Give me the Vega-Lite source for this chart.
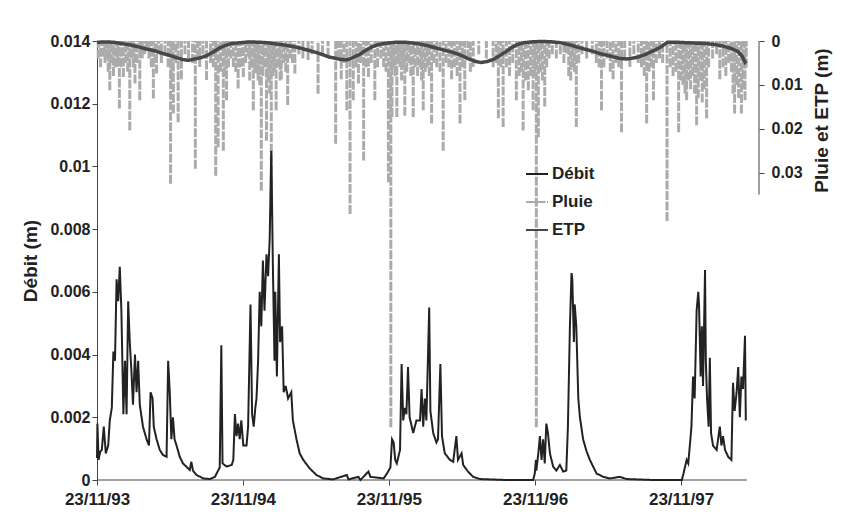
{
  "$schema": "https://vega.github.io/schema/vega-lite/v6.json",
  "width": 662,
  "height": 439,
  "autosize": {"type": "none"},
  "padding": {"left": 97, "top": 41, "right": 82, "bottom": 49},
  "background": "white",
  "config": {
    "view": {"stroke": null},
    "axis": {
      "grid": false,
      "labelFont": "Liberation Sans",
      "labelFontWeight": "bold",
      "labelFontSize": 16,
      "labelColor": "#222",
      "titleFont": "Liberation Sans",
      "titleFontWeight": "bold",
      "titleFontSize": 19,
      "titleColor": "#222",
      "domainColor": "#444",
      "tickColor": "#444",
      "tickSize": 5
    },
    "legend": {
      "labelFont": "Liberation Sans",
      "labelFontSize": 17,
      "labelFontWeight": "bold",
      "labelColor": "#222"
    }
  },
  "datasets": {
    "debit": [
      {"date": "1993-11-23", "q": 0.0007}, {"date": "1993-11-24", "q": 0.0018}, {"date": "1993-11-27", "q": 0.00064}, {"date": "1993-12-01", "q": 0.0009},
      {"date": "1993-12-05", "q": 0.00096}, {"date": "1993-12-10", "q": 0.0017}, {"date": "1993-12-15", "q": 0.00085}, {"date": "1993-12-21", "q": 0.0011},
      {"date": "1993-12-25", "q": 0.0019}, {"date": "1993-12-30", "q": 0.0023}, {"date": "1994-01-03", "q": 0.0041}, {"date": "1994-01-07", "q": 0.0038},
      {"date": "1994-01-11", "q": 0.0064}, {"date": "1994-01-15", "q": 0.0057}, {"date": "1994-01-19", "q": 0.0068}, {"date": "1994-01-23", "q": 0.0054},
      {"date": "1994-01-28", "q": 0.0021}, {"date": "1994-02-01", "q": 0.0038}, {"date": "1994-02-05", "q": 0.0021}, {"date": "1994-02-09", "q": 0.0057},
      {"date": "1994-02-13", "q": 0.0044}, {"date": "1994-02-17", "q": 0.0035}, {"date": "1994-02-21", "q": 0.0024}, {"date": "1994-02-26", "q": 0.004},
      {"date": "1994-03-02", "q": 0.0028}, {"date": "1994-03-06", "q": 0.0038}, {"date": "1994-03-10", "q": 0.0024}, {"date": "1994-03-18", "q": 0.0017},
      {"date": "1994-03-27", "q": 0.0013}, {"date": "1994-04-02", "q": 0.0011}, {"date": "1994-04-06", "q": 0.0028}, {"date": "1994-04-11", "q": 0.0026},
      {"date": "1994-04-14", "q": 0.0017}, {"date": "1994-04-21", "q": 0.0013}, {"date": "1994-04-29", "q": 0.00096}, {"date": "1994-05-07", "q": 0.0008},
      {"date": "1994-05-16", "q": 0.00074}, {"date": "1994-05-20", "q": 0.0038}, {"date": "1994-05-24", "q": 0.0028}, {"date": "1994-05-28", "q": 0.0013},
      {"date": "1994-06-01", "q": 0.002}, {"date": "1994-06-05", "q": 0.0013}, {"date": "1994-06-10", "q": 0.0011}, {"date": "1994-06-18", "q": 0.00074},
      {"date": "1994-06-26", "q": 0.00053}, {"date": "1994-07-13", "q": 0.00032}, {"date": "1994-07-17", "q": 0.00058}, {"date": "1994-07-21", "q": 0.0003},
      {"date": "1994-07-30", "q": 0.00016}, {"date": "1994-08-16", "q": 0.00005}, {"date": "1994-09-01", "q": 0.00003}, {"date": "1994-09-14", "q": 0.0001},
      {"date": "1994-09-22", "q": 0.0003}, {"date": "1994-09-26", "q": 0.0004}, {"date": "1994-09-30", "q": 0.0043}, {"date": "1994-10-03", "q": 0.00053},
      {"date": "1994-10-13", "q": 0.00043}, {"date": "1994-10-26", "q": 0.00048}, {"date": "1994-10-30", "q": 0.00064}, {"date": "1994-11-03", "q": 0.0021},
      {"date": "1994-11-07", "q": 0.0014}, {"date": "1994-11-11", "q": 0.0018}, {"date": "1994-11-15", "q": 0.0013}, {"date": "1994-11-19", "q": 0.0019},
      {"date": "1994-11-24", "q": 0.0011}, {"date": "1994-12-02", "q": 0.0011}, {"date": "1994-12-06", "q": 0.0017}, {"date": "1994-12-12", "q": 0.0056},
      {"date": "1994-12-16", "q": 0.0021}, {"date": "1994-12-20", "q": 0.0017}, {"date": "1994-12-24", "q": 0.0023}, {"date": "1994-12-27", "q": 0.0026},
      {"date": "1994-12-31", "q": 0.0038}, {"date": "1995-01-04", "q": 0.006}, {"date": "1995-01-08", "q": 0.0049}, {"date": "1995-01-12", "q": 0.007},
      {"date": "1995-01-16", "q": 0.0054}, {"date": "1995-01-21", "q": 0.0072}, {"date": "1995-01-25", "q": 0.0065}, {"date": "1995-01-29", "q": 0.0077},
      {"date": "1995-02-02", "q": 0.0105}, {"date": "1995-02-06", "q": 0.0068}, {"date": "1995-02-10", "q": 0.0038}, {"date": "1995-02-12", "q": 0.006},
      {"date": "1995-02-16", "q": 0.0033}, {"date": "1995-02-21", "q": 0.0072}, {"date": "1995-02-24", "q": 0.0044}, {"date": "1995-03-01", "q": 0.0049},
      {"date": "1995-03-05", "q": 0.0028}, {"date": "1995-03-10", "q": 0.003}, {"date": "1995-03-16", "q": 0.0026}, {"date": "1995-03-24", "q": 0.0028},
      {"date": "1995-03-28", "q": 0.0019}, {"date": "1995-04-06", "q": 0.0013}, {"date": "1995-04-14", "q": 0.00085}, {"date": "1995-04-23", "q": 0.00064},
      {"date": "1995-05-09", "q": 0.00037}, {"date": "1995-05-26", "q": 0.00016}, {"date": "1995-06-12", "q": 0.00005}, {"date": "1995-07-07", "q": 0.00002},
      {"date": "1995-08-10", "q": 0.00016}, {"date": "1995-08-14", "q": 0.00002}, {"date": "1995-09-08", "q": 0.0001}, {"date": "1995-09-13", "q": 0},
      {"date": "1995-10-03", "q": 0.00027}, {"date": "1995-10-08", "q": 0.0001}, {"date": "1995-11-10", "q": 0.00005}, {"date": "1995-11-18", "q": 0.0002},
      {"date": "1995-11-27", "q": 0.0004}, {"date": "1995-12-01", "q": 0.0013}, {"date": "1995-12-05", "q": 0.0012}, {"date": "1995-12-09", "q": 0.00064},
      {"date": "1995-12-13", "q": 0.00053}, {"date": "1995-12-21", "q": 0.00096}, {"date": "1995-12-25", "q": 0.0037}, {"date": "1995-12-29", "q": 0.0019},
      {"date": "1996-01-02", "q": 0.0023}, {"date": "1996-01-06", "q": 0.0021}, {"date": "1996-01-10", "q": 0.0036}, {"date": "1996-01-14", "q": 0.002},
      {"date": "1996-01-23", "q": 0.0015}, {"date": "1996-01-31", "q": 0.0019}, {"date": "1996-02-09", "q": 0.0019}, {"date": "1996-02-13", "q": 0.0029},
      {"date": "1996-02-17", "q": 0.0017}, {"date": "1996-02-21", "q": 0.0026}, {"date": "1996-02-25", "q": 0.0019}, {"date": "1996-03-03", "q": 0.0055},
      {"date": "1996-03-06", "q": 0.0022}, {"date": "1996-03-13", "q": 0.0015}, {"date": "1996-03-21", "q": 0.0012}, {"date": "1996-03-25", "q": 0.0013},
      {"date": "1996-03-31", "q": 0.0037}, {"date": "1996-04-04", "q": 0.0014}, {"date": "1996-04-11", "q": 0.00085}, {"date": "1996-04-24", "q": 0.00064},
      {"date": "1996-05-02", "q": 0.00058}, {"date": "1996-05-10", "q": 0.0014}, {"date": "1996-05-14", "q": 0.00064}, {"date": "1996-05-23", "q": 0.00085},
      {"date": "1996-05-27", "q": 0.00048}, {"date": "1996-06-08", "q": 0.00027}, {"date": "1996-06-21", "q": 0.0001}, {"date": "1996-07-08", "q": 0.00003},
      {"date": "1996-09-12", "q": 0}, {"date": "1996-11-18", "q": 0}, {"date": "1996-11-22", "q": 0.0002}, {"date": "1996-11-25", "q": 0.00064},
      {"date": "1996-11-26", "q": 0.0003}, {"date": "1996-12-01", "q": 0.00085}, {"date": "1996-12-05", "q": 0.0014}, {"date": "1996-12-09", "q": 0.00064},
      {"date": "1996-12-13", "q": 0.0013}, {"date": "1996-12-17", "q": 0.00053}, {"date": "1996-12-21", "q": 0.0018}, {"date": "1996-12-25", "q": 0.0015},
      {"date": "1996-12-30", "q": 0.00085}, {"date": "1997-01-07", "q": 0.00043}, {"date": "1997-01-15", "q": 0.0003}, {"date": "1997-01-24", "q": 0.00048},
      {"date": "1997-02-01", "q": 0.00027}, {"date": "1997-02-09", "q": 0.0003}, {"date": "1997-02-13", "q": 0.0017}, {"date": "1997-02-18", "q": 0.0049},
      {"date": "1997-02-22", "q": 0.0066}, {"date": "1997-02-24", "q": 0.0064}, {"date": "1997-02-28", "q": 0.0044}, {"date": "1997-03-02", "q": 0.0056},
      {"date": "1997-03-06", "q": 0.0049}, {"date": "1997-03-11", "q": 0.0026}, {"date": "1997-03-15", "q": 0.002}, {"date": "1997-03-23", "q": 0.0013},
      {"date": "1997-04-01", "q": 0.0009}, {"date": "1997-04-09", "q": 0.00064}, {"date": "1997-04-17", "q": 0.00043}, {"date": "1997-04-26", "q": 0.0002},
      {"date": "1997-05-04", "q": 0.00016}, {"date": "1997-05-12", "q": 0.0001}, {"date": "1997-05-29", "q": 0.00005}, {"date": "1997-06-23", "q": 0.0001},
      {"date": "1997-07-10", "q": 0.00003}, {"date": "1997-09-15", "q": 0}, {"date": "1997-11-25", "q": 0}, {"date": "1997-11-29", "q": 0.0002},
      {"date": "1997-12-07", "q": 0.00064}, {"date": "1997-12-11", "q": 0.00053}, {"date": "1997-12-15", "q": 0.0011}, {"date": "1997-12-19", "q": 0.0017},
      {"date": "1997-12-23", "q": 0.0033}, {"date": "1997-12-27", "q": 0.0026}, {"date": "1998-01-01", "q": 0.0054}, {"date": "1998-01-05", "q": 0.006},
      {"date": "1998-01-07", "q": 0.0056}, {"date": "1998-01-11", "q": 0.0033}, {"date": "1998-01-14", "q": 0.0049}, {"date": "1998-01-17", "q": 0.003},
      {"date": "1998-01-22", "q": 0.0067}, {"date": "1998-01-24", "q": 0.0038}, {"date": "1998-01-27", "q": 0.0026}, {"date": "1998-01-31", "q": 0.0017},
      {"date": "1998-02-03", "q": 0.0039}, {"date": "1998-02-06", "q": 0.0015}, {"date": "1998-02-11", "q": 0.0011}, {"date": "1998-02-20", "q": 0.00096},
      {"date": "1998-02-28", "q": 0.0017}, {"date": "1998-03-04", "q": 0.0011}, {"date": "1998-03-08", "q": 0.0014}, {"date": "1998-03-13", "q": 0.00096},
      {"date": "1998-03-21", "q": 0.00074}, {"date": "1998-03-29", "q": 0.00064}, {"date": "1998-04-02", "q": 0.0031}, {"date": "1998-04-06", "q": 0.0022},
      {"date": "1998-04-11", "q": 0.0028}, {"date": "1998-04-15", "q": 0.0036}, {"date": "1998-04-19", "q": 0.002}, {"date": "1998-04-23", "q": 0.0033},
      {"date": "1998-04-27", "q": 0.0029}, {"date": "1998-05-02", "q": 0.0046}, {"date": "1998-05-04", "q": 0.0019}
    ],
    "pluie": [
      {"date": "1993-11-26", "v": 0.004}, {"date": "1993-12-02", "v": 0.006}, {"date": "1993-12-09", "v": 0.0036}, {"date": "1993-12-13", "v": 0.005},
      {"date": "1993-12-17", "v": 0.004}, {"date": "1993-12-21", "v": 0.007}, {"date": "1993-12-25", "v": 0.0112}, {"date": "1993-12-29", "v": 0.005},
      {"date": "1994-01-03", "v": 0.008}, {"date": "1994-01-07", "v": 0.0059}, {"date": "1994-01-11", "v": 0.006}, {"date": "1994-01-14", "v": 0.004},
      {"date": "1994-01-18", "v": 0.0154}, {"date": "1994-01-22", "v": 0.006}, {"date": "1994-01-28", "v": 0.0082}, {"date": "1994-02-03", "v": 0.005},
      {"date": "1994-02-08", "v": 0.007}, {"date": "1994-02-13", "v": 0.0204}, {"date": "1994-02-18", "v": 0.004}, {"date": "1994-02-22", "v": 0.006},
      {"date": "1994-02-26", "v": 0.0097}, {"date": "1994-03-03", "v": 0.005}, {"date": "1994-03-10", "v": 0.0135}, {"date": "1994-03-16", "v": 0.004},
      {"date": "1994-03-22", "v": 0.003}, {"date": "1994-03-27", "v": 0.002}, {"date": "1994-04-02", "v": 0.004}, {"date": "1994-04-08", "v": 0.006},
      {"date": "1994-04-13", "v": 0.0131}, {"date": "1994-04-17", "v": 0.005}, {"date": "1994-04-21", "v": 0.0074}, {"date": "1994-04-26", "v": 0.003},
      {"date": "1994-05-03", "v": 0.005}, {"date": "1994-05-12", "v": 0.003}, {"date": "1994-05-20", "v": 0.006}, {"date": "1994-05-26", "v": 0.0325},
      {"date": "1994-05-29", "v": 0.009}, {"date": "1994-06-02", "v": 0.0165}, {"date": "1994-06-08", "v": 0.005}, {"date": "1994-06-14", "v": 0.0185},
      {"date": "1994-06-22", "v": 0.0087}, {"date": "1994-07-01", "v": 0.003}, {"date": "1994-07-10", "v": 0.004}, {"date": "1994-07-20", "v": 0.005},
      {"date": "1994-07-27", "v": 0.0291}, {"date": "1994-08-02", "v": 0.004}, {"date": "1994-08-07", "v": 0.0059}, {"date": "1994-08-15", "v": 0.003},
      {"date": "1994-08-24", "v": 0.0089}, {"date": "1994-09-03", "v": 0.005}, {"date": "1994-09-10", "v": 0.006}, {"date": "1994-09-16", "v": 0.0307},
      {"date": "1994-09-22", "v": 0.0242}, {"date": "1994-09-28", "v": 0.007}, {"date": "1994-10-05", "v": 0.025}, {"date": "1994-10-09", "v": 0.008},
      {"date": "1994-10-13", "v": 0.0135}, {"date": "1994-10-18", "v": 0.006}, {"date": "1994-10-24", "v": 0.004}, {"date": "1994-10-30", "v": 0.0059},
      {"date": "1994-11-05", "v": 0.007}, {"date": "1994-11-11", "v": 0.0108}, {"date": "1994-11-17", "v": 0.006}, {"date": "1994-11-24", "v": 0.0082},
      {"date": "1994-11-30", "v": 0.005}, {"date": "1994-12-06", "v": 0.0036}, {"date": "1994-12-10", "v": 0.009}, {"date": "1994-12-14", "v": 0.006},
      {"date": "1994-12-19", "v": 0.0158}, {"date": "1994-12-23", "v": 0.007}, {"date": "1994-12-27", "v": 0.0074}, {"date": "1994-12-31", "v": 0.009},
      {"date": "1995-01-04", "v": 0.01}, {"date": "1995-01-08", "v": 0.0341}, {"date": "1995-01-12", "v": 0.008}, {"date": "1995-01-16", "v": 0.006},
      {"date": "1995-01-21", "v": 0.0227}, {"date": "1995-01-25", "v": 0.009}, {"date": "1995-01-29", "v": 0.012}, {"date": "1995-02-02", "v": 0.0398},
      {"date": "1995-02-06", "v": 0.008}, {"date": "1995-02-10", "v": 0.007}, {"date": "1995-02-14", "v": 0.0158}, {"date": "1995-02-20", "v": 0.006},
      {"date": "1995-02-24", "v": 0.009}, {"date": "1995-02-27", "v": 0.0087}, {"date": "1995-03-05", "v": 0.005}, {"date": "1995-03-10", "v": 0.007},
      {"date": "1995-03-15", "v": 0.0146}, {"date": "1995-03-21", "v": 0.004}, {"date": "1995-03-27", "v": 0.005}, {"date": "1995-04-02", "v": 0.0074},
      {"date": "1995-04-12", "v": 0.003}, {"date": "1995-04-22", "v": 0.004}, {"date": "1995-05-05", "v": 0.0043}, {"date": "1995-05-15", "v": 0.003},
      {"date": "1995-05-30", "v": 0.012}, {"date": "1995-06-10", "v": 0.003}, {"date": "1995-06-24", "v": 0.0036}, {"date": "1995-07-13", "v": 0.0234},
      {"date": "1995-07-20", "v": 0.004}, {"date": "1995-07-27", "v": 0.0087}, {"date": "1995-08-03", "v": 0.005}, {"date": "1995-08-10", "v": 0.0158},
      {"date": "1995-08-18", "v": 0.0394}, {"date": "1995-08-26", "v": 0.0135}, {"date": "1995-09-02", "v": 0.006}, {"date": "1995-09-08", "v": 0.0097},
      {"date": "1995-09-14", "v": 0.005}, {"date": "1995-09-21", "v": 0.0272}, {"date": "1995-09-27", "v": 0.006}, {"date": "1995-10-03", "v": 0.0082},
      {"date": "1995-10-10", "v": 0.005}, {"date": "1995-10-19", "v": 0.0135}, {"date": "1995-10-26", "v": 0.006}, {"date": "1995-11-03", "v": 0.004},
      {"date": "1995-11-10", "v": 0.0059}, {"date": "1995-11-16", "v": 0.007}, {"date": "1995-11-22", "v": 0.0322}, {"date": "1995-11-28", "v": 0.088},
      {"date": "1995-12-01", "v": 0.0173}, {"date": "1995-12-05", "v": 0.006}, {"date": "1995-12-09", "v": 0.008}, {"date": "1995-12-13", "v": 0.0173},
      {"date": "1995-12-17", "v": 0.005}, {"date": "1995-12-21", "v": 0.0059}, {"date": "1995-12-25", "v": 0.009}, {"date": "1995-12-29", "v": 0.006},
      {"date": "1996-01-02", "v": 0.017}, {"date": "1996-01-07", "v": 0.007}, {"date": "1996-01-12", "v": 0.005}, {"date": "1996-01-17", "v": 0.008},
      {"date": "1996-01-23", "v": 0.0173}, {"date": "1996-01-28", "v": 0.006}, {"date": "1996-02-03", "v": 0.008}, {"date": "1996-02-09", "v": 0.006},
      {"date": "1996-02-13", "v": 0.009}, {"date": "1996-02-17", "v": 0.0158}, {"date": "1996-02-22", "v": 0.007}, {"date": "1996-02-27", "v": 0.006},
      {"date": "1996-03-03", "v": 0.008}, {"date": "1996-03-09", "v": 0.0188}, {"date": "1996-03-15", "v": 0.005}, {"date": "1996-03-22", "v": 0.006},
      {"date": "1996-03-30", "v": 0.007}, {"date": "1996-04-07", "v": 0.025}, {"date": "1996-04-14", "v": 0.005}, {"date": "1996-04-21", "v": 0.006},
      {"date": "1996-04-28", "v": 0.0087}, {"date": "1996-05-05", "v": 0.006}, {"date": "1996-05-12", "v": 0.008}, {"date": "1996-05-19", "v": 0.0188},
      {"date": "1996-05-25", "v": 0.006}, {"date": "1996-05-31", "v": 0.0135}, {"date": "1996-06-08", "v": 0.004}, {"date": "1996-06-14", "v": 0.007},
      {"date": "1996-06-21", "v": 0.0059}, {"date": "1996-07-05", "v": 0.003}, {"date": "1996-07-24", "v": 0.004}, {"date": "1996-08-10", "v": 0.006},
      {"date": "1996-08-18", "v": 0.005}, {"date": "1996-08-23", "v": 0.0176}, {"date": "1996-08-29", "v": 0.006}, {"date": "1996-09-04", "v": 0.0196},
      {"date": "1996-09-12", "v": 0.006}, {"date": "1996-09-20", "v": 0.008}, {"date": "1996-09-28", "v": 0.005}, {"date": "1996-10-07", "v": 0.0135},
      {"date": "1996-10-14", "v": 0.008}, {"date": "1996-10-20", "v": 0.007}, {"date": "1996-10-24", "v": 0.0204}, {"date": "1996-10-30", "v": 0.009},
      {"date": "1996-11-06", "v": 0.0112}, {"date": "1996-11-12", "v": 0.008}, {"date": "1996-11-18", "v": 0.0158}, {"date": "1996-11-22", "v": 0.008},
      {"date": "1996-11-26", "v": 0.088}, {"date": "1996-12-01", "v": 0.0219}, {"date": "1996-12-06", "v": 0.007}, {"date": "1996-12-11", "v": 0.009},
      {"date": "1996-12-17", "v": 0.0149}, {"date": "1996-12-22", "v": 0.006}, {"date": "1996-12-28", "v": 0.004}, {"date": "1997-01-05", "v": 0.003},
      {"date": "1997-01-15", "v": 0.004}, {"date": "1997-01-25", "v": 0.003}, {"date": "1997-02-03", "v": 0.005}, {"date": "1997-02-09", "v": 0.0028},
      {"date": "1997-02-15", "v": 0.008}, {"date": "1997-02-20", "v": 0.009}, {"date": "1997-02-25", "v": 0.006}, {"date": "1997-03-01", "v": 0.007},
      {"date": "1997-03-06", "v": 0.0196}, {"date": "1997-03-12", "v": 0.005}, {"date": "1997-03-20", "v": 0.003}, {"date": "1997-04-01", "v": 0.004},
      {"date": "1997-04-15", "v": 0.003}, {"date": "1997-04-25", "v": 0.005}, {"date": "1997-05-02", "v": 0.006}, {"date": "1997-05-08", "v": 0.0158},
      {"date": "1997-05-14", "v": 0.006}, {"date": "1997-05-22", "v": 0.004}, {"date": "1997-05-30", "v": 0.007}, {"date": "1997-06-06", "v": 0.0087},
      {"date": "1997-06-13", "v": 0.005}, {"date": "1997-06-20", "v": 0.006}, {"date": "1997-06-27", "v": 0.0208}, {"date": "1997-07-05", "v": 0.004},
      {"date": "1997-07-18", "v": 0.0059}, {"date": "1997-07-28", "v": 0.003}, {"date": "1997-08-08", "v": 0.005}, {"date": "1997-08-16", "v": 0.006},
      {"date": "1997-08-23", "v": 0.008}, {"date": "1997-08-29", "v": 0.0188}, {"date": "1997-09-04", "v": 0.007}, {"date": "1997-09-10", "v": 0.006},
      {"date": "1997-09-15", "v": 0.0135}, {"date": "1997-09-22", "v": 0.005}, {"date": "1997-09-30", "v": 0.004}, {"date": "1997-10-08", "v": 0.005},
      {"date": "1997-10-19", "v": 0.041}, {"date": "1997-10-27", "v": 0.006}, {"date": "1997-11-03", "v": 0.008}, {"date": "1997-11-10", "v": 0.007},
      {"date": "1997-11-17", "v": 0.0208}, {"date": "1997-11-23", "v": 0.009}, {"date": "1997-11-28", "v": 0.01}, {"date": "1997-12-03", "v": 0.012},
      {"date": "1997-12-07", "v": 0.0135}, {"date": "1997-12-12", "v": 0.009}, {"date": "1997-12-17", "v": 0.011}, {"date": "1997-12-22", "v": 0.008},
      {"date": "1997-12-27", "v": 0.012}, {"date": "1998-01-01", "v": 0.0192}, {"date": "1998-01-05", "v": 0.013}, {"date": "1998-01-10", "v": 0.009},
      {"date": "1998-01-15", "v": 0.014}, {"date": "1998-01-20", "v": 0.011}, {"date": "1998-01-26", "v": 0.0176}, {"date": "1998-01-31", "v": 0.006},
      {"date": "1998-02-10", "v": 0.004}, {"date": "1998-02-20", "v": 0.003}, {"date": "1998-02-28", "v": 0.0087}, {"date": "1998-03-08", "v": 0.006},
      {"date": "1998-03-15", "v": 0.008}, {"date": "1998-03-22", "v": 0.005}, {"date": "1998-03-29", "v": 0.007}, {"date": "1998-04-02", "v": 0.012},
      {"date": "1998-04-06", "v": 0.0165}, {"date": "1998-04-11", "v": 0.01}, {"date": "1998-04-16", "v": 0.013}, {"date": "1998-04-23", "v": 0.0165},
      {"date": "1998-04-27", "v": 0.011}, {"date": "1998-05-02", "v": 0.0135}, {"date": "1998-05-05", "v": 0.006}
    ],
    "etp": [
      {"date": "1993-11-23", "v": 0.0003}, {"date": "1993-12-15", "v": 0.0002}, {"date": "1994-01-05", "v": 0.0003}, {"date": "1994-01-25", "v": 0.0006},
      {"date": "1994-02-15", "v": 0.0009}, {"date": "1994-03-05", "v": 0.0013}, {"date": "1994-03-25", "v": 0.0018}, {"date": "1994-04-15", "v": 0.0022},
      {"date": "1994-05-05", "v": 0.0028}, {"date": "1994-05-25", "v": 0.0033}, {"date": "1994-06-10", "v": 0.0038}, {"date": "1994-06-25", "v": 0.0042},
      {"date": "1994-07-10", "v": 0.0044}, {"date": "1994-07-25", "v": 0.0041}, {"date": "1994-08-10", "v": 0.0038}, {"date": "1994-08-25", "v": 0.0033},
      {"date": "1994-09-10", "v": 0.0025}, {"date": "1994-09-25", "v": 0.0016}, {"date": "1994-10-10", "v": 0.001}, {"date": "1994-10-25", "v": 0.0006},
      {"date": "1994-11-15", "v": 0.0004}, {"date": "1994-12-10", "v": 0.0002}, {"date": "1995-01-05", "v": 0.0003}, {"date": "1995-01-25", "v": 0.0004},
      {"date": "1995-02-15", "v": 0.0007}, {"date": "1995-03-05", "v": 0.0009}, {"date": "1995-03-25", "v": 0.0012}, {"date": "1995-04-15", "v": 0.0016},
      {"date": "1995-05-05", "v": 0.0021}, {"date": "1995-05-25", "v": 0.0026}, {"date": "1995-06-10", "v": 0.0031}, {"date": "1995-06-25", "v": 0.0036},
      {"date": "1995-07-10", "v": 0.0039}, {"date": "1995-07-25", "v": 0.0042}, {"date": "1995-08-10", "v": 0.0043}, {"date": "1995-08-25", "v": 0.0038},
      {"date": "1995-09-10", "v": 0.0031}, {"date": "1995-09-25", "v": 0.0022}, {"date": "1995-10-10", "v": 0.0014}, {"date": "1995-10-25", "v": 0.0009},
      {"date": "1995-11-15", "v": 0.0005}, {"date": "1995-12-10", "v": 0.0003}, {"date": "1996-01-05", "v": 0.0003}, {"date": "1996-01-25", "v": 0.0005},
      {"date": "1996-02-15", "v": 0.0008}, {"date": "1996-03-05", "v": 0.0012}, {"date": "1996-03-25", "v": 0.0017}, {"date": "1996-04-15", "v": 0.0022},
      {"date": "1996-05-05", "v": 0.0027}, {"date": "1996-05-25", "v": 0.0034}, {"date": "1996-06-10", "v": 0.0041}, {"date": "1996-06-25", "v": 0.0046},
      {"date": "1996-07-10", "v": 0.0049}, {"date": "1996-07-25", "v": 0.0047}, {"date": "1996-08-10", "v": 0.0042}, {"date": "1996-08-25", "v": 0.0034},
      {"date": "1996-09-10", "v": 0.0025}, {"date": "1996-09-25", "v": 0.0015}, {"date": "1996-10-10", "v": 0.0008}, {"date": "1996-10-25", "v": 0.0004},
      {"date": "1996-11-15", "v": 0.0002}, {"date": "1996-12-10", "v": 0.0001}, {"date": "1997-01-05", "v": 0.0002}, {"date": "1997-01-25", "v": 0.0004},
      {"date": "1997-02-15", "v": 0.0008}, {"date": "1997-03-05", "v": 0.0013}, {"date": "1997-03-25", "v": 0.0018}, {"date": "1997-04-15", "v": 0.0023},
      {"date": "1997-05-05", "v": 0.0029}, {"date": "1997-05-25", "v": 0.0033}, {"date": "1997-06-10", "v": 0.0037}, {"date": "1997-06-25", "v": 0.004},
      {"date": "1997-07-10", "v": 0.0041}, {"date": "1997-07-25", "v": 0.0039}, {"date": "1997-08-10", "v": 0.0036}, {"date": "1997-08-25", "v": 0.0031},
      {"date": "1997-09-10", "v": 0.0024}, {"date": "1997-10-01", "v": 0.0015}, {"date": "1997-10-20", "v": 0.0003}, {"date": "1997-11-15", "v": 0.0003},
      {"date": "1997-12-10", "v": 0.0004}, {"date": "1998-01-05", "v": 0.0005}, {"date": "1998-01-25", "v": 0.0006}, {"date": "1998-02-15", "v": 0.0008},
      {"date": "1998-03-05", "v": 0.0011}, {"date": "1998-03-25", "v": 0.0016}, {"date": "1998-04-15", "v": 0.0024}, {"date": "1998-04-25", "v": 0.0035},
      {"date": "1998-05-02", "v": 0.0048}, {"date": "1998-05-05", "v": 0.0045}
    ],
    "xaxe": [{"date": "1993-11-23", "date2": "1998-05-07", "q": 0}],
    "raxe": [{"date": "1998-06-06", "v": 0, "v2": 0.035}]
  },
  "layer": [
    {
      "layer": [
        {
          "data": {"name": "pluie"},
          "mark": {"type": "rule", "strokeWidth": 3},
          "encoding": {
            "x": {"field": "date", "type": "temporal", "scale": {"type": "utc", "nice": false, "domain": [{"year": 1993, "month": 11, "date": 23, "utc": true}, {"year": 1998, "month": 6, "date": 6, "utc": true}]}},
            "y": {"field": "v", "type": "quantitative", "scale": {"domain": [0, 0.1], "reverse": true, "nice": false},
                  "axis": {"orient": "right", "title": "Pluie et ETP (m)", "values": [0, 0.01, 0.02, 0.03], "format": "~g", "domain": false, "labelPadding": 7,
                           "titleAngle": 270, "titleX": 62, "titleY": 79, "titleAlign": "center", "titleBaseline": "middle"}},
            "y2": {"datum": 0},
            "color": {"datum": "Pluie", "type": "nominal", "scale": {"domain": ["Débit", "Pluie", "ETP"], "range": ["#222222", "#ababab", "#474747"]},
                      "legend": {"title": null, "orient": "none", "legendX": 428, "legendY": 121, "symbolType": "stroke", "symbolSize": 484, "symbolStrokeWidth": 2, "rowPadding": 8, "labelOffset": 3}},
            "strokeDash": {"datum": "Pluie", "type": "nominal", "scale": {"domain": ["Débit", "Pluie", "ETP"], "range": [[1, 0], [9, 1.5], [1, 0]]},
                      "legend": {"title": null, "orient": "none", "legendX": 428, "legendY": 121, "symbolType": "stroke", "symbolSize": 484, "symbolStrokeWidth": 2, "rowPadding": 8, "labelOffset": 3}}
          }
        },
        {
          "data": {"name": "etp"},
          "mark": {"type": "line", "strokeWidth": 3.5},
          "encoding": {
            "x": {"field": "date", "type": "temporal"},
            "y": {"field": "v", "type": "quantitative"},
            "color": {"datum": "ETP", "type": "nominal"},
            "strokeDash": {"datum": "ETP", "type": "nominal"}
          }
        },
        {
          "data": {"name": "raxe"},
          "mark": {"type": "rule", "color": "#444", "strokeWidth": 1},
          "encoding": {
            "x": {"field": "date", "type": "temporal"},
            "y": {"field": "v", "type": "quantitative"},
            "y2": {"field": "v2"}
          }
        }
      ]
    },
    {
      "layer": [
        {
          "data": {"name": "xaxe"},
          "mark": {"type": "rule", "color": "#444", "strokeWidth": 1},
          "encoding": {
            "x": {"field": "date", "type": "temporal"},
            "x2": {"field": "date2"},
            "y": {"field": "q", "type": "quantitative"}
          }
        },
        {
          "data": {"name": "debit"},
          "mark": {"type": "line", "strokeWidth": 2},
          "encoding": {
            "x": {"field": "date", "type": "temporal",
                  "axis": {"title": null, "domain": false, "format": "%d/%m/%y", "labelPadding": 6, "labelFlush": false, "labelFontSize": 17,
                           "values": [{"year": 1993, "month": 11, "date": 23, "utc": true}, {"year": 1994, "month": 11, "date": 23, "utc": true}, {"year": 1995, "month": 11, "date": 23, "utc": true}, {"year": 1996, "month": 11, "date": 23, "utc": true}, {"year": 1997, "month": 11, "date": 23, "utc": true}]}},
            "y": {"field": "q", "type": "quantitative", "scale": {"domain": [0, 0.014], "nice": false},
                  "axis": {"orient": "left", "title": "Débit (m)", "values": [0, 0.002, 0.004, 0.006, 0.008, 0.01, 0.012, 0.014], "format": "~g", "labelPadding": 2,
                           "titleAngle": 270, "titleX": -67, "titleY": 219.5, "titleAlign": "center", "titleBaseline": "middle"}},
            "color": {"datum": "Débit", "type": "nominal"},
            "strokeDash": {"datum": "Débit", "type": "nominal"}
          }
        }
      ]
    }
  ],
  "resolve": {"scale": {"y": "independent"}, "axis": {"y": "independent"}}
}
